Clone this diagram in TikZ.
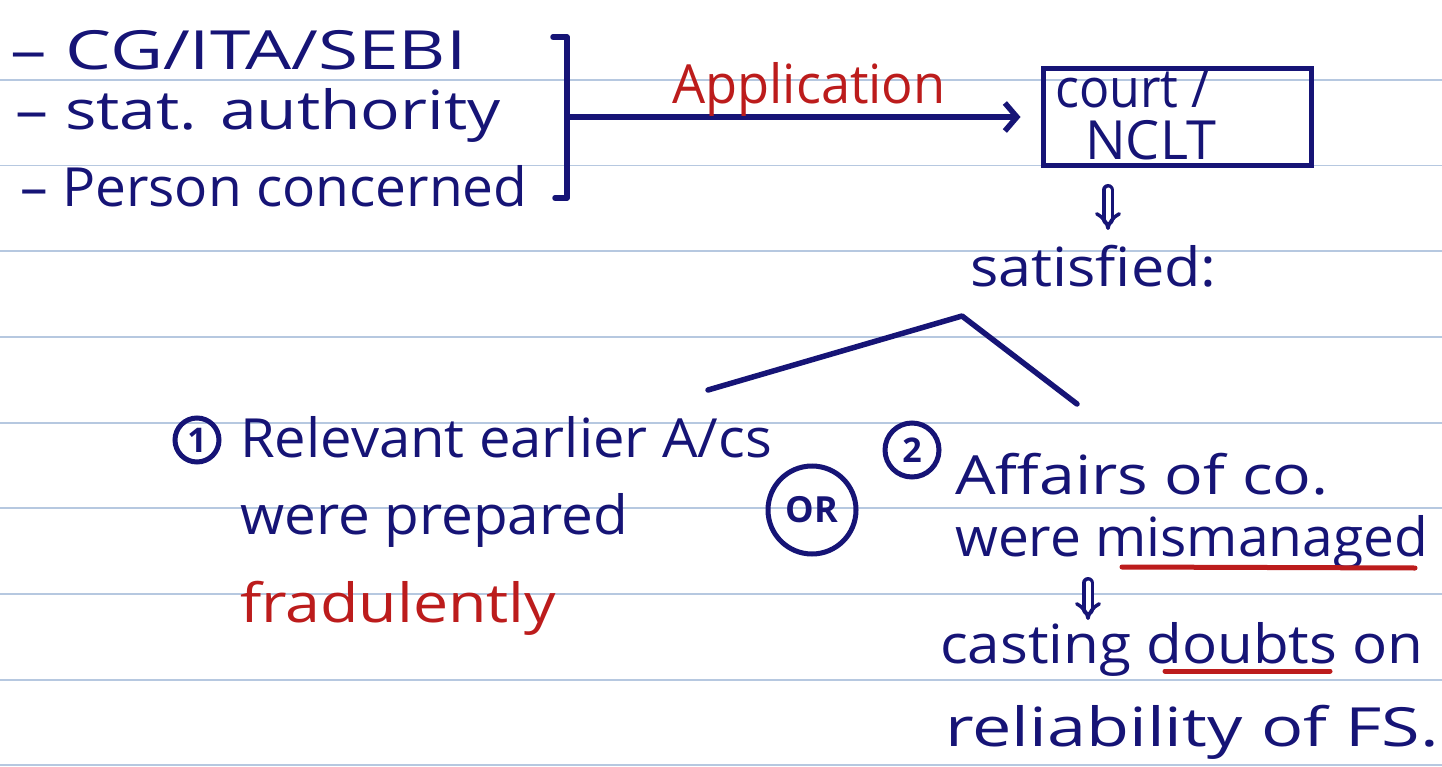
\documentclass[tikz,border=0pt]{standalone}
\usepackage{graphicx}
\usepackage{fontspec}
\setmainfont{Open Sans}
\usetikzlibrary{arrows.meta}
\definecolor{ink}{RGB}{22,20,118}
\definecolor{redink}{RGB}{188,28,28}
\definecolor{ruled}{RGB}{182,200,224}
\newcommand{\sx}[2]{\scalebox{#1}[1]{#2}}
\begin{document}
\begin{tikzpicture}[x=1pt,y=-1pt,
  hw/.style={font=\fontsize{54}{60}\selectfont, text=ink, anchor=base west, inner sep=0pt},
  hwred/.style={hw, text=redink},
  pen/.style={draw=ink, line width=5.5pt, line cap=round, line join=round},
  redpen/.style={draw=redink, line width=5pt, line cap=round},
  numcirc/.style={circle, draw=ink, line width=5pt, text=ink, inner sep=0pt, font=\fontsize{34}{40}\selectfont\bfseries},
  dbl/.style={draw=ink, line width=3.5pt, double distance=5pt, -{Implies}, line cap=round},
  ruleline/.style={draw=ruled, line width=1.5pt}]
\useasboundingbox (0,0) rectangle (1442,767);
\fill[white] (0,0) rectangle (1442,767);
\foreach \yy in {80,165.5,251,337,423,508,594,680,765}
  \draw[ruleline] (0,\yy) -- (1442,\yy);

% left list
\node[hw] (l1) at (10,70) {\sx{1.35}{– CG/ITA/SEBI}};
\node[hw] (l2) at (15,130) {\sx{1.22}{– stat. authority}};
\node[hw] (l3) at (20,207) {\sx{1.02}{– Person concerned}};

% bracket
\coordinate (btop) at (567,37);
\coordinate (bbot) at (567,198);
\coordinate (bmid) at (567,117);
\draw[pen] (553,37) -- (btop) -- (bbot) -- (555,198);

% court box
\node[draw=ink, line width=5pt, minimum width=268pt, minimum height=97pt, inner sep=0pt] (court) at (1177,117.5) {};
\node[hw] (ct1) at (1055,108) {\sx{0.93}{court /}};
\node[hw] (ct2) at (1085,160) {NCLT};

\draw[pen, -{Straight Barb[length=12pt,width=28pt]}, shorten >=20pt] (bmid) -- (court.west |- bmid);
\node[hwred] (app) at (672,104) {\sx{0.97}{Application}};

% satisfied
\coordinate (d1s) at (1108,190);
\coordinate (d1e) at (1108,230);
\draw[dbl] (d1s) -- (d1e);
\node[hw] (sat) at (970,287) {\sx{1.1}{satisfied:}};

% tree
\coordinate (apex) at (962,316);
\coordinate (lend) at (708,390);
\coordinate (rend) at (1077,404);
\draw[pen] (lend) -- (apex) -- (rend);

% branch 1
\node[numcirc, minimum size=44pt] (n1) at (197,440) {1};
\node[hw] (t1a) at (240,457) {\sx{1.04}{Relevant earlier A/cs}};
\node[hw] (t1b) at (240,534) {\sx{1.05}{were prepared}};
\node[hwred] (t1c) at (240,622) {\sx{1.16}{fradulently}};

% OR
\node[numcirc, minimum size=88pt, font=\fontsize{36}{42}\selectfont\bfseries] (orc) at (812,510) {OR};

% branch 2
\node[numcirc, minimum size=54pt] (n2) at (912,450) {2};
\node[hw] (t2a) at (955,494) {\sx{1.19}{Affairs of co.}};
\node[hw] (t2b) at (955,556) {\sx{1.02}{were mismanaged}};
\draw[redpen] (1122,567) -- (1415,568);
\coordinate (d2s) at (1088,583);
\coordinate (d2e) at (1088,620);
\draw[dbl] (d2s) -- (d2e);
\node[hw] (t2c) at (940,663) {\sx{1.08}{casting doubts on}};
\draw[redpen] (1165,671) -- (1330,671);
\node[hw] (t2d) at (945,746) {\sx{1.3}{reliability of FS.}};
\end{tikzpicture}
\end{document}
